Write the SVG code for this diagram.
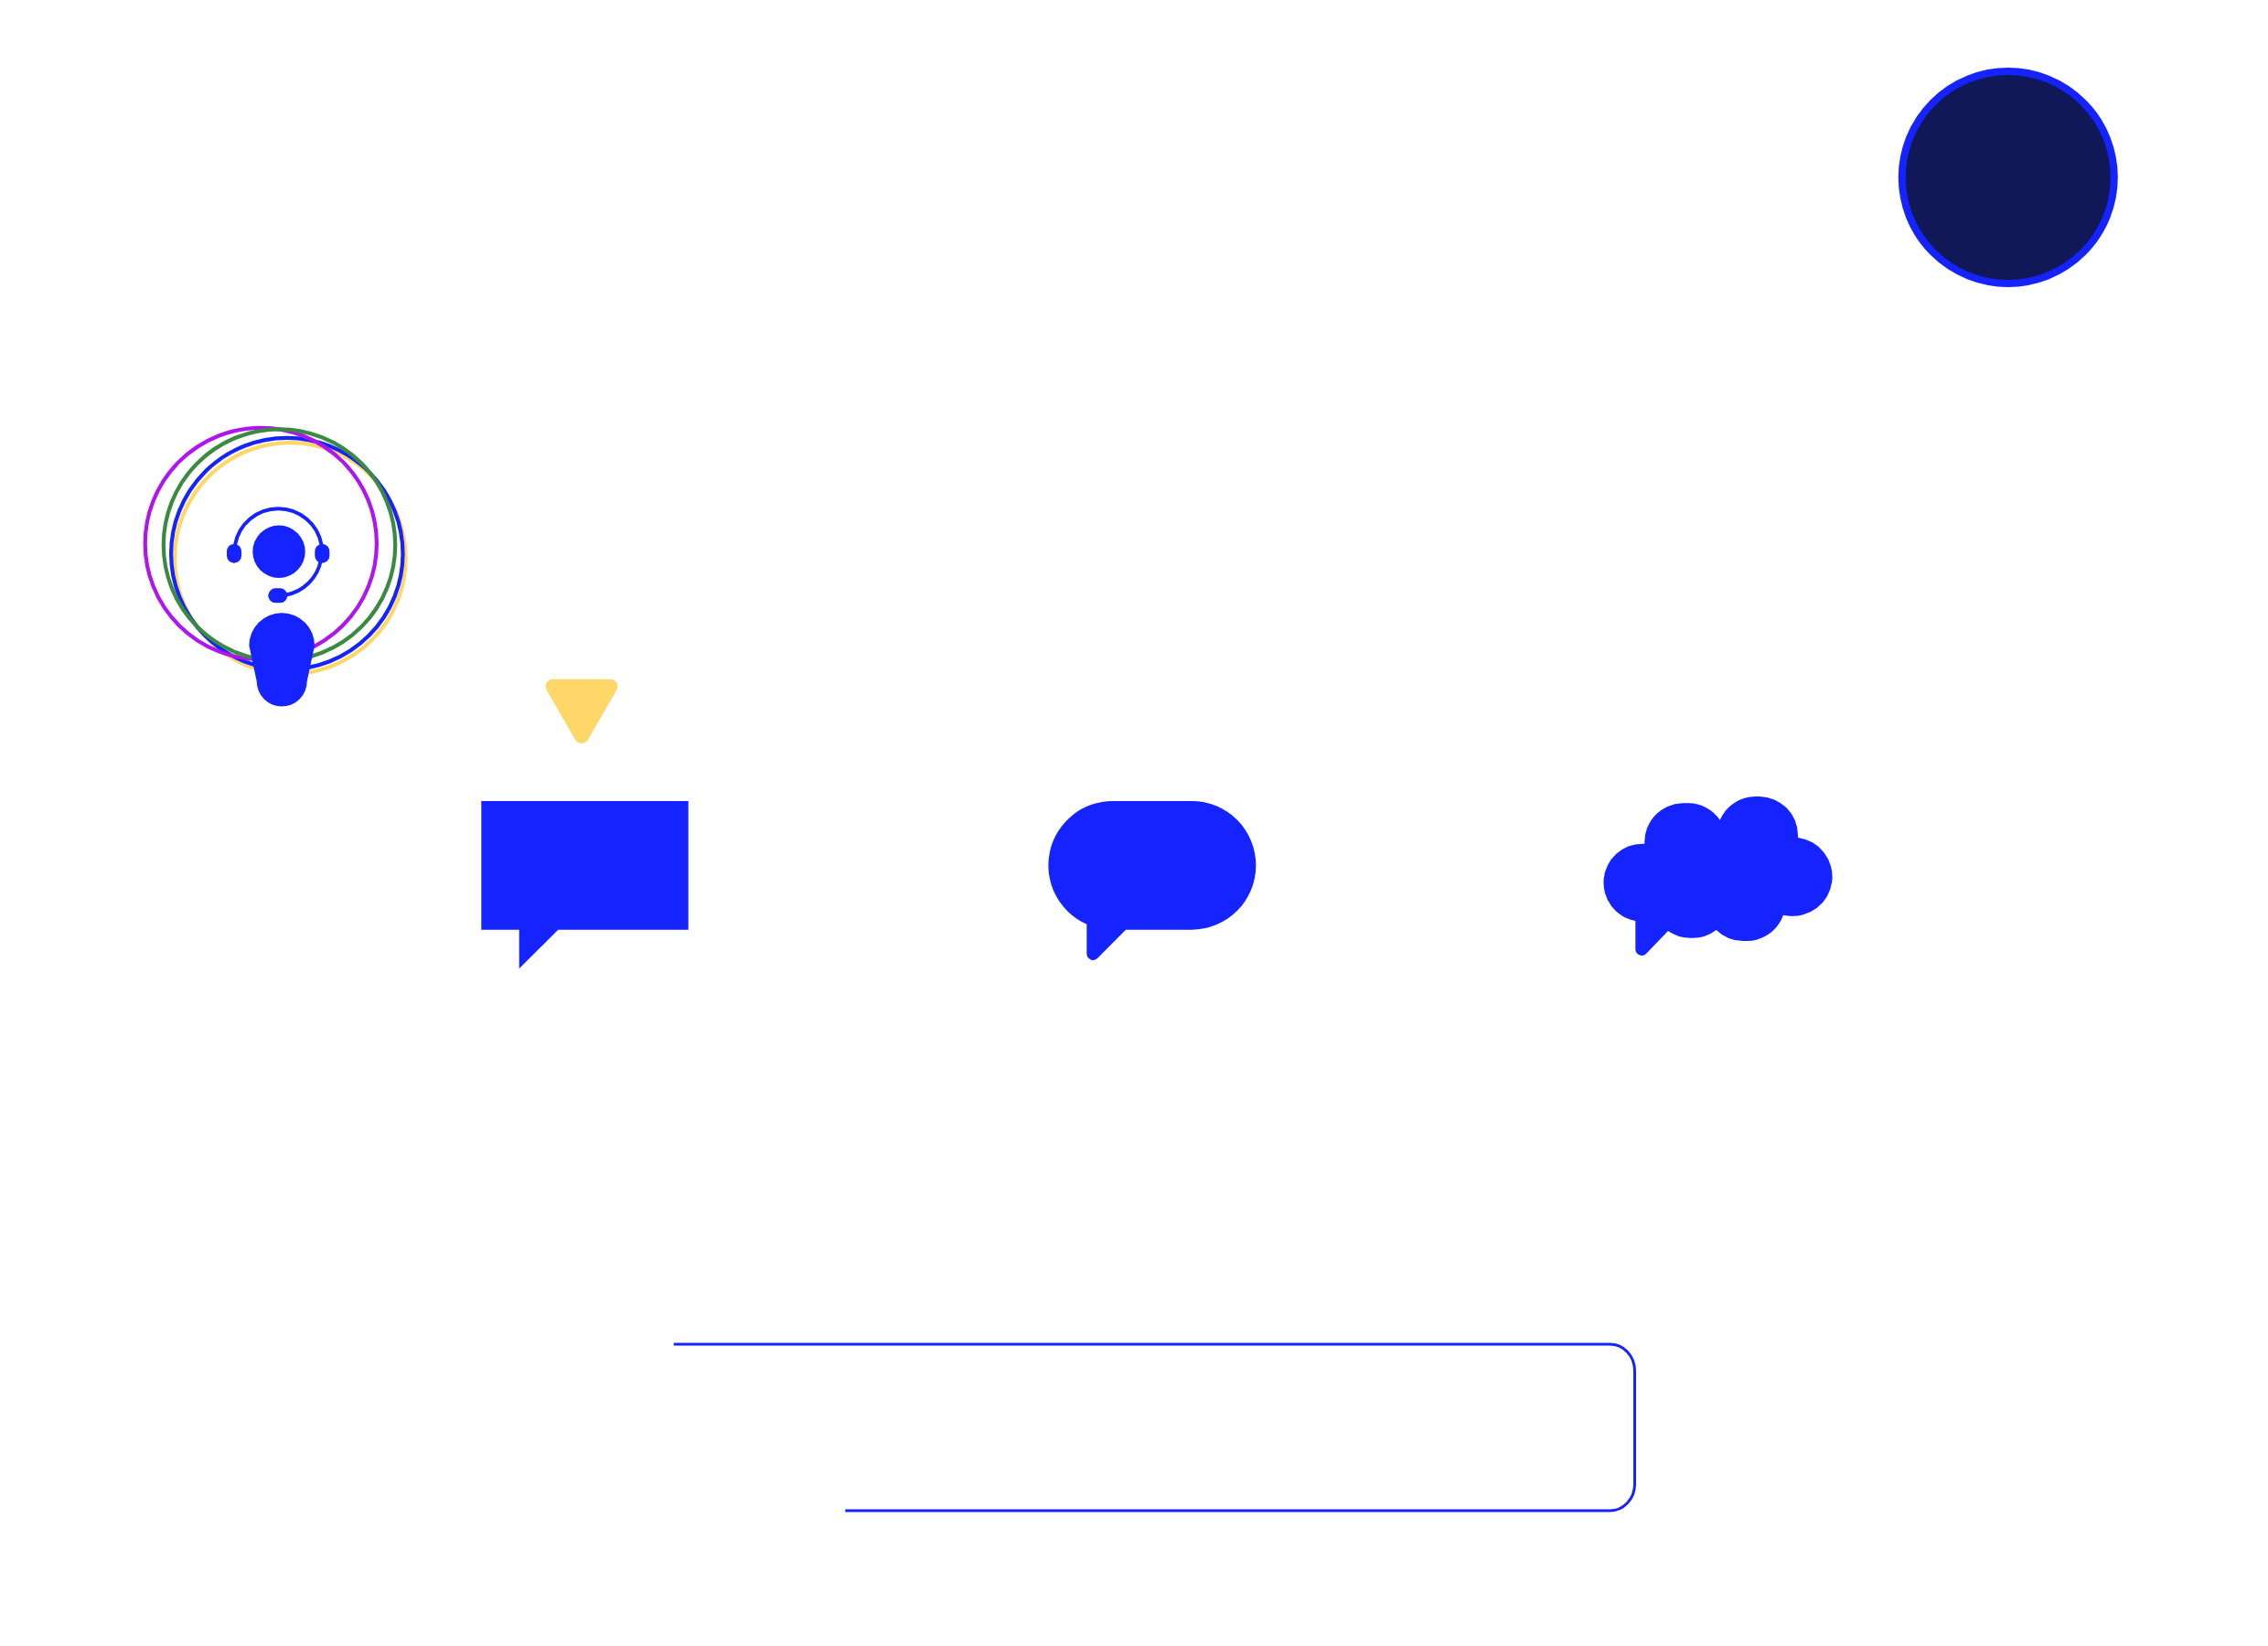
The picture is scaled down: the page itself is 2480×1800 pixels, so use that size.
<svg xmlns="http://www.w3.org/2000/svg" width="2480" height="1800" viewBox="0 0 2480 1800">
<style>
.b{fill:#1423ff}
.r{fill:none;stroke-width:4.2}
.l{fill:none;stroke:#1423ff}
</style>
<rect width="2480" height="1800" fill="#fff"/>
<g id="dark-circle"><circle cx="2195.8" cy="194" r="116" fill="#111858" stroke="#1423ff" stroke-width="8"/></g>
<g id="agent">
<circle class="r" cx="317.3" cy="610.5" r="126.3" stroke="#ffd768"/>
<circle class="r" cx="313.8" cy="605.5" r="126.7" stroke="#1423ff"/>
<circle class="r" cx="285.3" cy="594.4" r="126.6" stroke="#b015f0"/>
<circle class="r" cx="305.5" cy="596" r="126.7" stroke="#3a8a41"/>
<circle class="b" cx="305" cy="603.3" r="28.7"/>
<path class="l" stroke-width="4" d="M257 596A48 48 0 0 1 351.6 596M351 612A48 48 0 0 1 312 650.7"/>
<rect class="b" x="248" y="595" width="16" height="20.7" rx="8"/>
<rect class="b" x="344.3" y="595" width="16" height="20.7" rx="8"/>
<rect class="b" x="293.3" y="643.3" width="21" height="16" rx="8"/>
<path class="b" d="M272.4 706A35.8 35.8 0 0 1 344 706L335.7 745A27.5 27.5 0 0 1 280.7 745Z"/>
</g>
<g id="triangle"><path d="M604.7 750.7H667.3L636 804.9Z" fill="#ffd768" stroke="#ffd768" stroke-width="16" stroke-linejoin="round"/></g>
<g id="bubble-rect"><path class="b" d="M526.3 876H752.7V1016.7H610.3L567.7 1059.3V1016.7H526.3Z"/></g>
<g id="bubble-round"><path class="b" d="M1217.4 876H1303A70.35 70.35 0 0 1 1303 1016.7H1231L1200.5 1047.5A7 7 0 0 1 1188.3 1043V1010.7A70.35 70.35 0 0 1 1217.4 876Z"/></g>
<g id="bubble-cloud"><path class="b" d="M1788.3 1007A42.5 42.5 0 0 1 1796 922.7H1798.3A42.5 42.5 0 0 1 1840 878.3H1846A42.5 42.5 0 0 1 1880.7 896.7A42.5 42.5 0 0 1 1920 871H1924A42.5 42.5 0 0 1 1966 913.5V916A43 43 0 0 1 1955 1001.5L1950 1000.7A42.5 42.5 0 0 1 1908 1029H1906A42.5 42.5 0 0 1 1876.7 1017A42.5 42.5 0 0 1 1850 1025.7A42.5 42.5 0 0 1 1824 1018L1800 1043A7 7 0 0 1 1788.3 1038Z"/></g>
<g id="connectors"><path class="l" stroke-width="3" d="M736.7 1470H1760.5A27 29 0 0 1 1787.5 1499V1623A27 29 0 0 1 1760.5 1652H924.3"/></g>
</svg>
